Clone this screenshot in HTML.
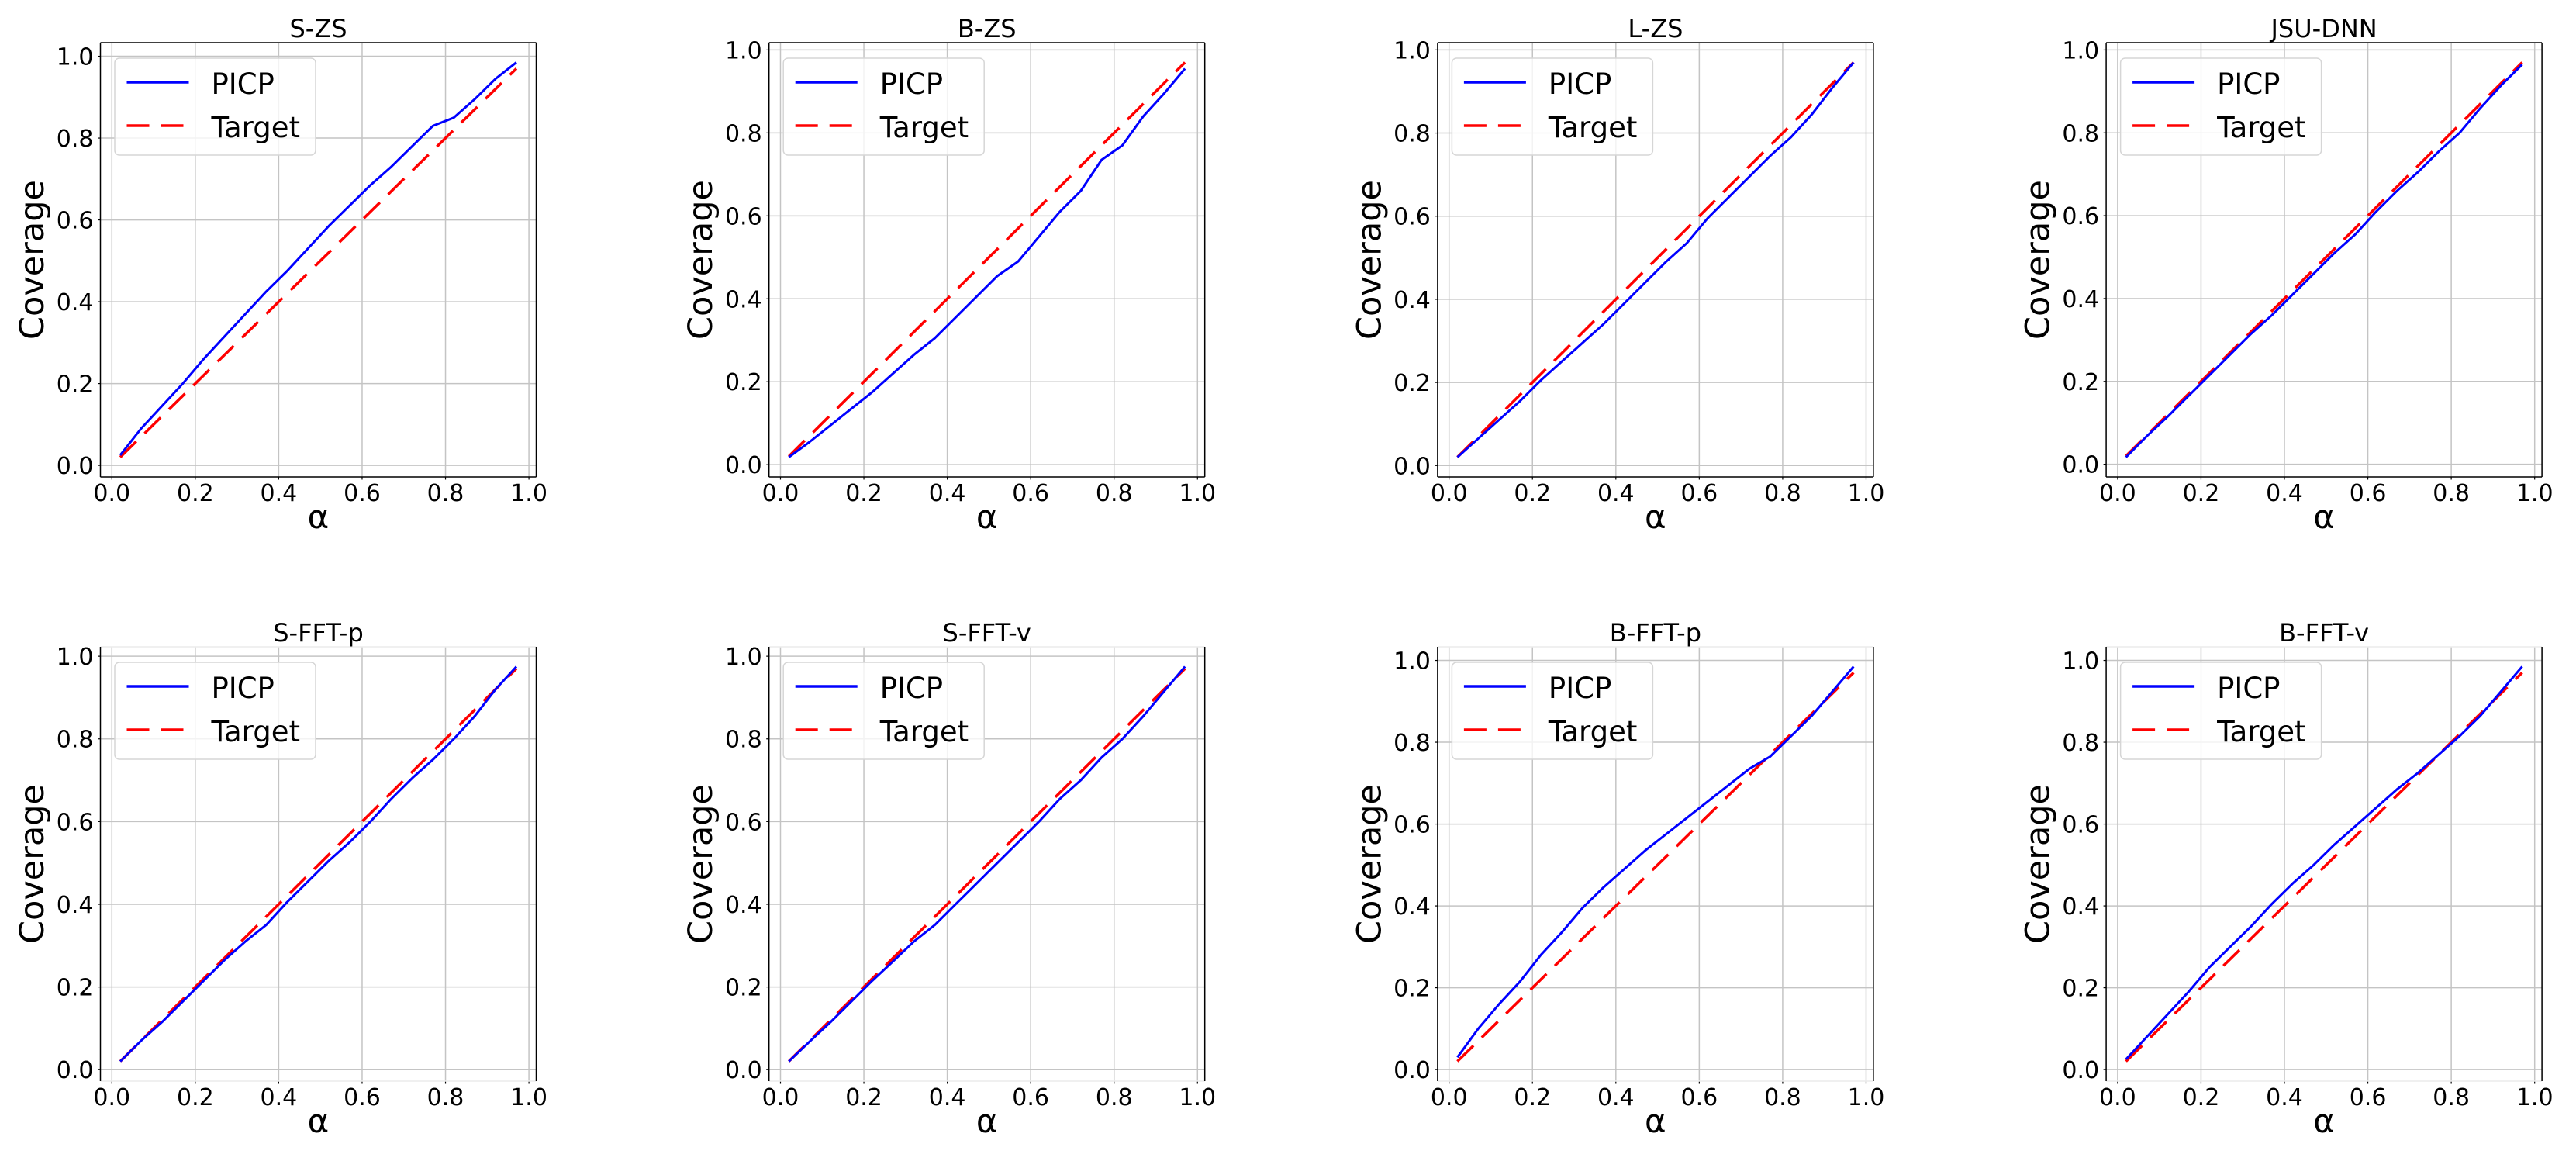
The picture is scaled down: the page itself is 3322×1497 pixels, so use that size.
<!DOCTYPE html>
<html><head><meta charset="utf-8"><style>
html,body{margin:0;padding:0;background:#fff;}
svg{display:block;font-family:"DejaVu Sans","Liberation Sans",sans-serif;}
</style></head><body>
<svg id="fig" width="3322" height="1497" viewBox="0 0 3322 1497" xmlns="http://www.w3.org/2000/svg"></svg>
<script>
const titles = ["S-ZS","B-ZS","L-ZS","JSU-DNN","S-FFT-p","S-FFT-v","B-FFT-p","B-FFT-v"];
const alphas = [0.02,0.07,0.12,0.17,0.22,0.27,0.32,0.37,0.42,0.47,0.52,0.57,0.62,0.67,0.72,0.77,0.82,0.87,0.92,0.97];
const picpSZS  = [.025,.09,.145,.20,.26,.315,.37,.425,.475,.53,.585,.635,.685,.73,.78,.83,.85,.895,.945,.985];
const picpBZS  = [.018,.055,.095,.135,.175,.22,.265,.305,.355,.405,.455,.49,.55,.61,.66,.735,.77,.84,.895,.955];
const picpLZS  = [.02,.065,.11,.155,.205,.25,.295,.34,.39,.44,.49,.535,.595,.645,.695,.745,.79,.845,.91,.97];
const picpJSU  = [.017,.068,.115,.165,.215,.265,.315,.36,.41,.46,.51,.555,.61,.66,.705,.755,.80,.86,.915,.965];
const picpSFFTp= [.02,.07,.115,.165,.215,.265,.31,.35,.405,.455,.505,.55,.60,.655,.705,.75,.80,.855,.92,.975];
const picpSFFTv= [.02,.068,.115,.165,.215,.262,.31,.35,.40,.45,.50,.55,.60,.655,.70,.755,.80,.855,.915,.975];
const picpBFFTp= [.03,.10,.16,.215,.28,.335,.395,.445,.49,.535,.575,.615,.655,.695,.735,.765,.815,.865,.925,.985];
const picpBFFTv= [.025,.08,.135,.19,.25,.30,.35,.405,.455,.50,.55,.595,.64,.685,.725,.77,.815,.865,.925,.985];
const picpAll = [picpSZS,picpBZS,picpLZS,picpJSU,picpSFFTp,picpSFFTv,picpBFFTp,picpBFFTv];
const tickVals = [0,0.2,0.4,0.6,0.8,1.0];
const tickLabels = ["0.0","0.2","0.4","0.6","0.8","1.0"];

const NS="http://www.w3.org/2000/svg";
const svg=document.getElementById('fig');
function mk(tag,attrs,parent){const e=document.createElementNS(NS,tag);for(const k in attrs)e.setAttribute(k,attrs[k]);(parent||svg).appendChild(e);return e;}

const W=562,H=560;
for(let p=0;p<8;p++){
  const col=p%4,row=Math.floor(p/4);
  const L=129.5+col*862.2, T=55+row*779;
  const g=mk('g',{});
  
  
  const picp=picpAll[p];
  const xmin=Math.min(...alphas),xmax=Math.max(...alphas),xr=xmax-xmin;
  const x0=xmin-0.05*xr,x1=xmax+0.05*xr;
  const all=picp.concat(alphas);
  const ymin=Math.min(...all),ymax=Math.max(...all),yr=ymax-ymin;
  const y0=ymin-0.05*yr,y1=ymax+0.05*yr;
  const sx=v=>L+(v-x0)/(x1-x0)*W;
  const sy=v=>T+H-(v-y0)/(y1-y0)*H;
  tickVals.forEach((v,i)=>{
    const gx=mk('line',{x1:sx(v),x2:sx(v),y1:T,y2:T+H,stroke:'#c4c4c4','stroke-width':1.5},g);
    
    
    const gy=mk('line',{x1:L,x2:L+W,y1:sy(v),y2:sy(v),stroke:'#c4c4c4','stroke-width':1.5},g);
    
    
    mk('line',{x1:sx(v),x2:sx(v),y1:T+H,y2:T+H+3.5,stroke:'#000','stroke-width':1.2},g);
    mk('line',{x1:L-3.5,x2:L,y1:sy(v),y2:sy(v),stroke:'#000','stroke-width':1.2},g);
    const xt=mk('text',{x:sx(v),y:T+H+31,'font-size':30,'text-anchor':'middle',fill:'#000'},g);
    xt.textContent=tickLabels[i];
    
    
    const yt=mk('text',{x:L-9,y:sy(v)+11,'font-size':30,'text-anchor':'end',fill:'#000'},g);
    yt.textContent=tickLabels[i];
    
    
  });
  const tgt=mk('polyline',{points:alphas.map(a=>sx(a)+','+sy(a)).join(' '),fill:'none',stroke:'#ff0000','stroke-width':3.5,'stroke-dasharray':'29 15'},g);
  
  
  const pl=mk('polyline',{points:alphas.map((a,i)=>sx(a)+','+sy(picp[i])).join(' '),fill:'none',stroke:'#0000ff','stroke-width':3,'stroke-linejoin':'round'},g);
  
  
  const spc=row===0?'#000':'#ebebeb';
  mk('line',{x1:L,x2:L+W,y1:T,y2:T,stroke:spc,'stroke-width':1.5},g);
  mk('line',{x1:L,x2:L+W,y1:T+H,y2:T+H,stroke:spc,'stroke-width':1.5},g);
  mk('line',{x1:L,x2:L,y1:T,y2:T+H,stroke:'#000','stroke-width':1.5},g);
  mk('line',{x1:L+W,x2:L+W,y1:T,y2:T+H,stroke:'#000','stroke-width':1.5},g);
  const tt=mk('text',{x:L+W/2,y:T-7,'font-size':32,'text-anchor':'middle',fill:'#000'},g);
  tt.textContent=titles[p];
  
  
  const xl=mk('text',{x:L+W/2,y:T+H+66,'font-size':42,'text-anchor':'middle',fill:'#000'},g);
  xl.textContent='α';
  
  
  const yl=mk('text',{x:0,y:0,'font-size':43,'text-anchor':'middle',fill:'#000',transform:`translate(${L-73.5},${T+H/2}) rotate(-90)`},g);
  yl.textContent='Coverage';
  
  
  const lg=mk('g',{},g);
  
  
  mk('rect',{x:L+18.5,y:T+20,width:259,height:125,rx:6,fill:'#fff','fill-opacity':0.8,stroke:'#d6d6d6','stroke-width':1.5},lg);
  mk('line',{x1:L+34,x2:L+114,y1:T+51,y2:T+51,stroke:'#0000ff','stroke-width':3.5},lg);
  mk('line',{x1:L+34,x2:L+114,y1:T+107,y2:T+107,stroke:'#ff0000','stroke-width':3.5,'stroke-dasharray':'29 15'},lg);
  const l1=mk('text',{x:L+143,y:T+66,'font-size':37,fill:'#000'},lg);
  l1.textContent='PICP';
  
  
  const l2=mk('text',{x:L+143,y:T+122,'font-size':37,fill:'#000'},lg);
  l2.textContent='Target';
  
  
}
</script>
</body></html>
